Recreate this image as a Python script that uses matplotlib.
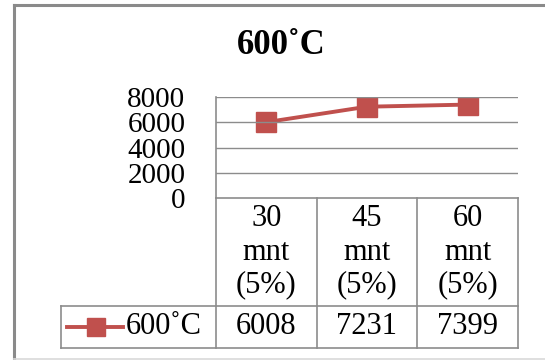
import matplotlib
matplotlib.use("Agg")
from matplotlib import pyplot as plt
from matplotlib.lines import Line2D
from matplotlib.transforms import blended_transform_factory

plt.rcParams["font.family"] = ["Liberation Serif", "DejaVu Serif"]

# ---------------- data ----------------
series_name = "600\u02daC"
categories = ["30\nmnt\n(5%)", "45\nmnt\n(5%)", "60\nmnt\n(5%)"]
values = [6008, 7231, 7399]
y_ticks = [0, 2000, 4000, 6000, 8000]

red = "#C0504D"
grid_col = "#8C8C8C"
W, H = 545, 360


def fx(px):
    return px / W


def fy(py):
    return 1 - py / H


fig = plt.figure(figsize=(W / 100, H / 100), dpi=100)
ax = fig.add_axes([fx(216), fy(198), fx(518) - fx(216), fy(97) - fy(198)])

x = list(range(len(values)))
ax.plot(x, values, color=red, lw=2.8, marker="s", ms=14, mec=red, mfc=red)
ax.set_xlim(-0.5, len(values) - 0.5)
ax.set_ylim(y_ticks[0], y_ticks[-1])
ax.set_yticks(y_ticks)
ax.set_yticklabels([str(t) for t in y_ticks], fontsize=21)
ax.set_xticks([])
ax.tick_params(axis="y", length=0, pad=22)
for s in ["top", "right", "bottom"]:
    ax.spines[s].set_visible(False)
ax.spines["left"].set_color(grid_col)
ax.spines["left"].set_linewidth(1.2)
for t in y_ticks[1:]:
    ax.axhline(t, color=grid_col, lw=1.0)

fig.text(fx(281), fy(46), series_name, ha="center", va="center",
         fontsize=25, fontweight="bold")

# ---------------- data table below the plot ----------------
tr = blended_transform_factory(ax.transData, fig.transFigure)
bounds = [i - 0.5 for i in range(len(values) + 1)]
top, mid, bot = fy(198), fy(306), fy(348)
lw = 1.2
for b in bounds:
    fig.add_artist(Line2D([b, b], [top, bot], color=grid_col, lw=lw, transform=tr))
fig.add_artist(Line2D([fx(216), fx(518)], [top, top], color=grid_col, lw=lw,
                      transform=fig.transFigure))
for yy in (mid, bot):
    fig.add_artist(Line2D([fx(61), fx(518)], [yy, yy], color=grid_col, lw=lw,
                          transform=fig.transFigure))
fig.add_artist(Line2D([fx(61), fx(61)], [mid, bot], color=grid_col, lw=lw,
                      transform=fig.transFigure))

for i, cat in enumerate(categories):
    for j, part in enumerate(cat.split("\n")):
        fig.text(0, fy(219 + 33 * j), part, ha="center", va="center",
                 fontsize=22, transform=tr).set_x(i)
    fig.text(0, fy(327), str(values[i]), ha="center", va="center",
             fontsize=22, transform=tr).set_x(i)

# legend key in the table row
fig.add_artist(Line2D([fx(67), fx(123)], [fy(327), fy(327)], color=red, lw=2.8,
                      transform=fig.transFigure))
fig.add_artist(Line2D([fx(96)], [fy(327)], color=red, marker="s", ms=13,
                      mec=red, mfc=red, lw=0, transform=fig.transFigure))
fig.text(fx(126), fy(327), series_name, ha="left", va="center", fontsize=22)

# chart frame
fig.add_artist(Line2D([fx(14), fx(14)], [fy(5), fy(359)], color="#8A8A8A", lw=2.2,
                      transform=fig.transFigure))
fig.add_artist(Line2D([fx(14), fx(545)], [fy(5), fy(5)], color="#8A8A8A", lw=2.2,
                      transform=fig.transFigure))
fig.add_artist(Line2D([fx(14), fx(545)], [fy(359), fy(359)], color="#D9D9D9", lw=1.2,
                      transform=fig.transFigure))

fig.savefig("out.png", dpi=100)
